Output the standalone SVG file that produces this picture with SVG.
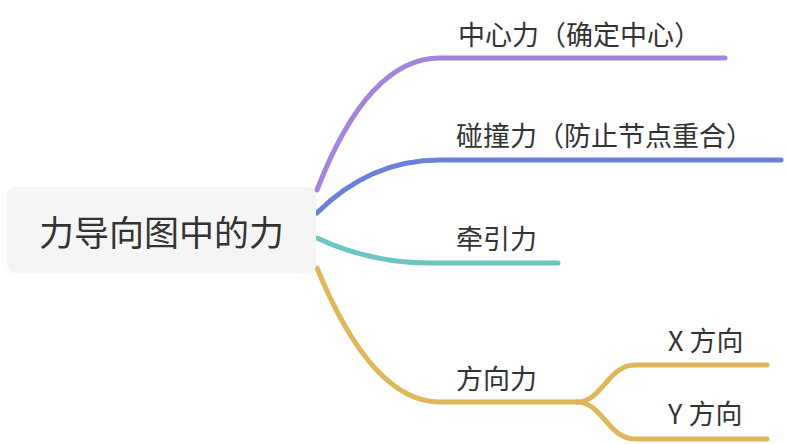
<svg xmlns="http://www.w3.org/2000/svg" width="788" height="444" viewBox="0 0 788 444">
<style>
  .lbl { font-family: "Noto Sans CJK SC", "Noto Sans", sans-serif; fill: #333333; font-size: 27px; dominant-baseline: central; }
  .root { font-size: 35px; text-anchor: middle; }
  .edge { fill: none; stroke-width: 5; stroke-linecap: round; }
  .purple { stroke: #a484dc; }
  .blue { stroke: #6b80d8; }
  .teal { stroke: #6cc5c0; }
  .yellow { stroke: #e0b65a; }
</style>
<rect width="788" height="444" fill="#ffffff"/>
<g id="connectors">
  <path class="edge purple" d="M 317 190 Q 368 58 440 58 L 725 58"/>
  <path class="edge blue" d="M 317 213 Q 370 160 440 160 L 781 160"/>
  <path class="edge teal" d="M 317 238 Q 370 263 430 263 L 558 263"/>
  <path class="edge yellow" d="M 317 268 Q 372 402 440 402 L 577 402"/>
  <path class="edge yellow" d="M 577 402 C 602 402 608 365 635 365 L 767 365"/>
  <path class="edge yellow" d="M 577 402 C 602 402 608 439 635 439 L 767 439"/>
</g>
<g id="root">
  <rect x="7" y="187" width="309" height="86" rx="8" fill="#f5f5f5"/>
  <text class="lbl root" x="161.5" y="230">力导向图中的力</text>
</g>
<g id="n-center">
  <text class="lbl" x="458" y="33">中心力（确定中心）</text>
</g>
<g id="n-collide">
  <text class="lbl" x="456" y="134">碰撞力（防止节点重合）</text>
</g>
<g id="n-link">
  <text class="lbl" x="456" y="237.5">牵引力</text>
</g>
<g id="n-dir">
  <text class="lbl" x="456" y="377.5">方向力</text>
</g>
<g id="n-x">
  <text class="lbl" x="668" y="339">X 方向</text>
</g>
<g id="n-y">
  <text class="lbl" x="668" y="412.5">Y 方向</text>
</g>
</svg>
